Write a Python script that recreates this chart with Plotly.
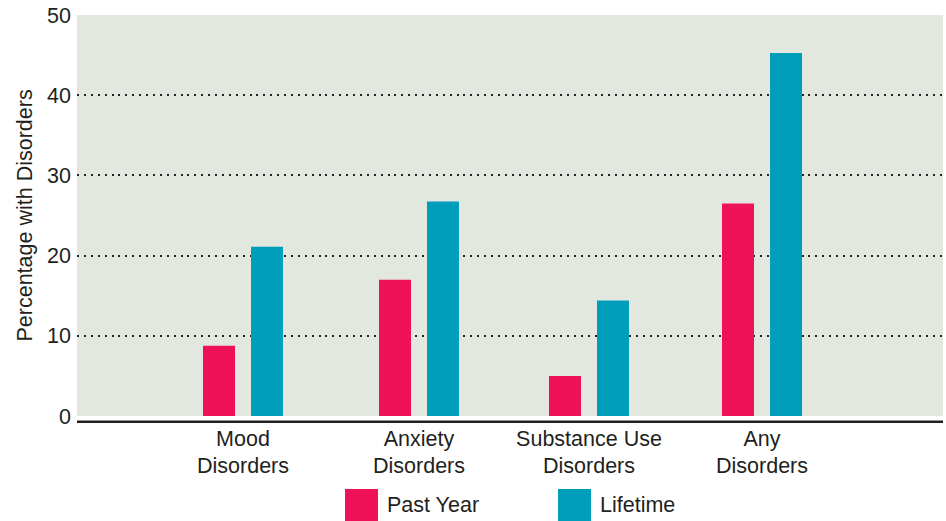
import plotly.graph_objects as go

# Prevalence of mental disorders (percent of respondents)
categories = ["Mood<br>Disorders", "Anxiety<br>Disorders", "Substance Use<br>Disorders", "Any<br>Disorders"]
past_year = [8.75, 17.0, 5.0, 26.5]
lifetime = [21.1, 26.75, 14.4, 45.25]
y_ticks = [0, 10, 20, 30, 40, 50]
grid_levels = [10, 20, 30, 40]

PINK = "#EF1259"
TEAL = "#009EBB"
BG = "#E2E7E0"
INK = "#231F20"
FONT = "Liberation Sans"
FS = 21.5

# plot box in pixels
W, H = 946, 521
L, R, T, B = 77, 3, 15, 105
PW = W - L - R
PH = H - T - B

unit = 173.0                      # pixels per category slot
# group centres along the category axis (slightly uneven spacing)
xpos = [0.0, 176 / unit, 346 / unit, 519 / unit]
x0 = -(243 - L) / unit
x1 = x0 + PW / unit
bar_w = 32 / unit

fig = go.Figure()
fig.add_trace(go.Bar(x=xpos, y=past_year, name="Past Year", marker_color=PINK,
                     marker_line_width=0, width=bar_w, offset=-40 / unit))
fig.add_trace(go.Bar(x=xpos, y=lifetime, name="Lifetime", marker_color=TEAL,
                     marker_line_width=0, width=bar_w, offset=8 / unit))


def px_x(p):
    return (p - L) / PW


def px_y(p):
    return (H - B - p) / PH


shapes = [
    # heavy baseline under the plot area
    dict(type="line", xref="paper", yref="paper", x0=0, x1=1,
         y0=px_y(421.7), y1=px_y(421.7), line=dict(color=INK, width=2.4)),
    # legend swatches
    dict(type="rect", xref="paper", yref="paper", x0=px_x(345), x1=px_x(378),
         y0=px_y(489), y1=px_y(521), fillcolor=PINK, line_width=0),
    dict(type="rect", xref="paper", yref="paper", x0=px_x(558), x1=px_x(591),
         y0=px_y(489), y1=px_y(521), fillcolor=TEAL, line_width=0),
]

annotations = [
    dict(text="Percentage with Disorders", xref="paper", yref="paper",
         x=px_x(24), y=0.5, xanchor="center", yanchor="middle", textangle=-90,
         showarrow=False, font=dict(family=FONT, size=FS, color=INK)),
    dict(text="Past Year", xref="paper", yref="paper", x=px_x(385), y=px_y(505),
         xanchor="left", yanchor="middle", showarrow=False,
         font=dict(family=FONT, size=FS, color=INK)),
    dict(text="Lifetime", xref="paper", yref="paper", x=px_x(598), y=px_y(505),
         xanchor="left", yanchor="middle", showarrow=False,
         font=dict(family=FONT, size=FS, color=INK)),
]

fig.update_layout(
    width=W, height=H,
    margin=dict(l=L, r=R, t=T, b=B, pad=0),
    paper_bgcolor="white",
    plot_bgcolor=BG,
    showlegend=False,
    font=dict(family=FONT, size=FS, color=INK),
    shapes=shapes,
    annotations=annotations,
    xaxis=dict(
        range=[x0, x1], tickmode="array", tickvals=xpos, ticktext=categories,
        showgrid=False, zeroline=False, showline=False, ticks="",
        ticklabelstandoff=7,
        tickfont=dict(family=FONT, size=FS, color=INK), fixedrange=True,
    ),
    yaxis=dict(
        range=[0, 50], tickmode="array", tickvals=y_ticks,
        showgrid=False, zeroline=False, showline=False, ticks="",
        ticklabelstandoff=5,
        tickfont=dict(family=FONT, size=FS, color=INK), fixedrange=True,
        minor=dict(tickmode="array", tickvals=grid_levels, showgrid=True,
                   gridcolor="#222222", gridwidth=2.4, griddash="2px,4.9px", ticks=""),
    ),
)

fig.write_html("out.html")
